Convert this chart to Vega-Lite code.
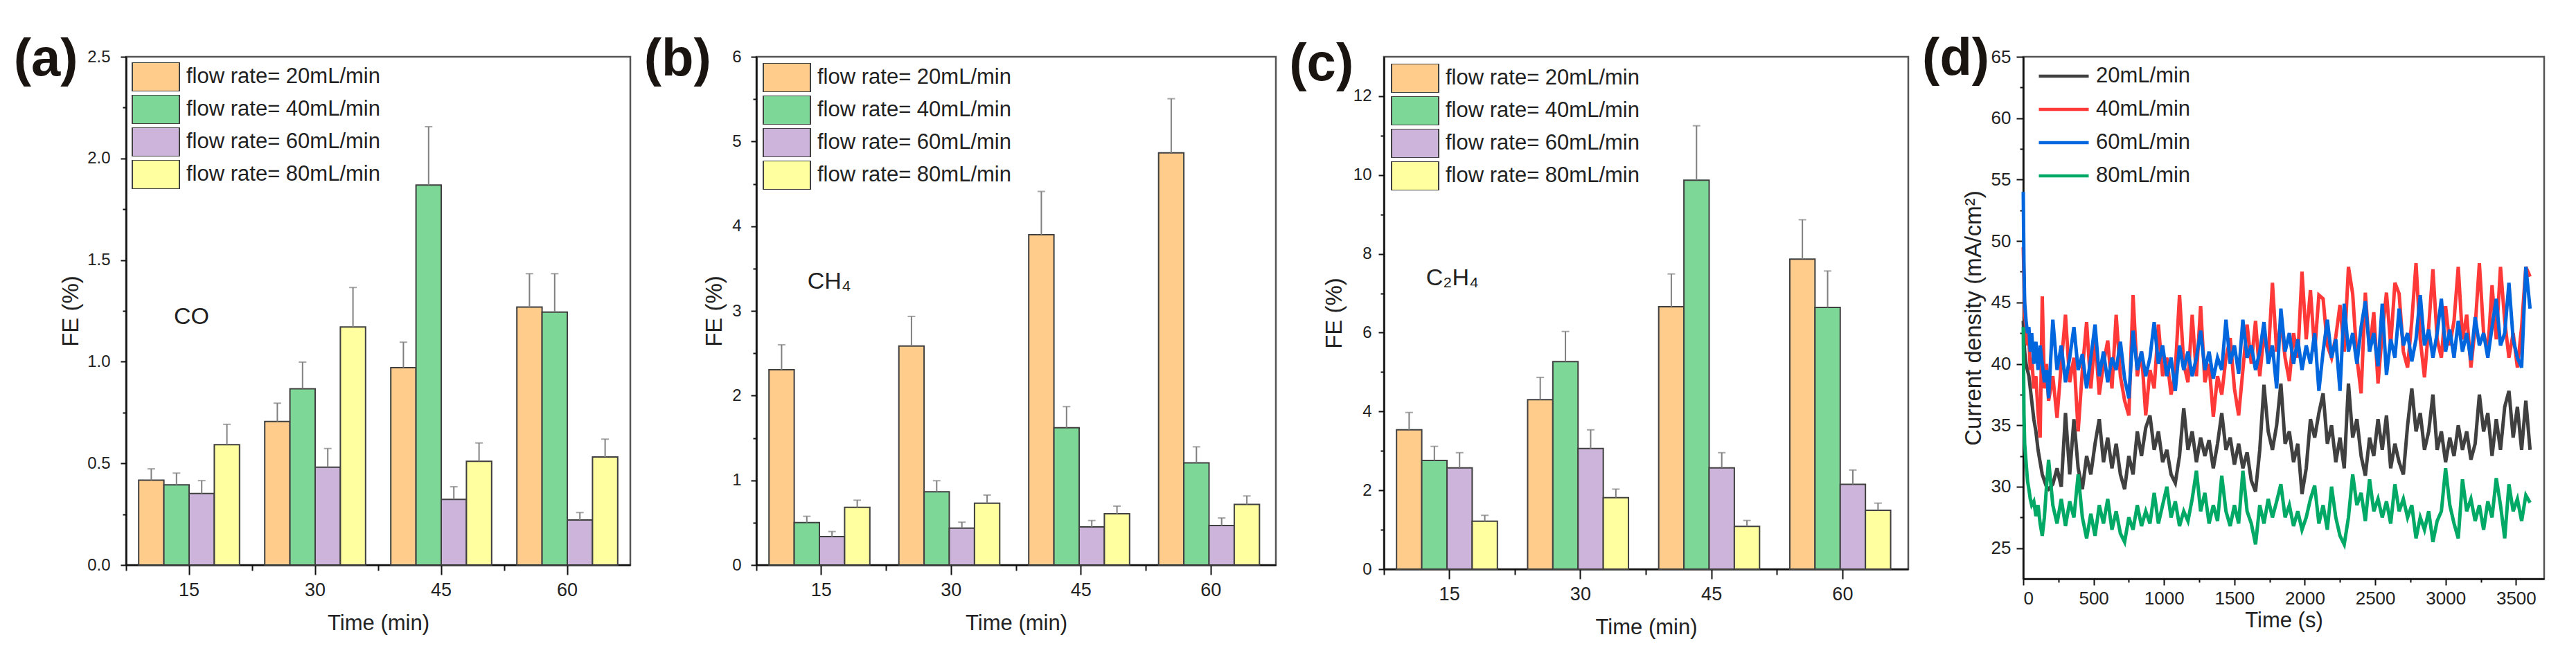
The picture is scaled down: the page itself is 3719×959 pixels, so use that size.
{
  "$schema": "https://vega.github.io/schema/vega-lite/v6.json",
  "description": "FE of CO, CH4, C2H4 at four flow rates, and current density over time",
  "padding": {"left": 18, "top": 45, "right": 0, "bottom": 0},
  "spacing": 16,
  "datasets": {
    "fe": [
      {"panel": "a", "time": "15", "flow": "flow rate= 20mL/min", "fe": 0.417, "up": 0.473},
      {"panel": "a", "time": "15", "flow": "flow rate= 40mL/min", "fe": 0.394, "up": 0.452},
      {"panel": "a", "time": "15", "flow": "flow rate= 60mL/min", "fe": 0.352, "up": 0.415},
      {"panel": "a", "time": "15", "flow": "flow rate= 80mL/min", "fe": 0.592, "up": 0.692},
      {"panel": "a", "time": "30", "flow": "flow rate= 20mL/min", "fe": 0.706, "up": 0.796},
      {"panel": "a", "time": "30", "flow": "flow rate= 40mL/min", "fe": 0.867, "up": 0.998},
      {"panel": "a", "time": "30", "flow": "flow rate= 60mL/min", "fe": 0.481, "up": 0.573},
      {"panel": "a", "time": "30", "flow": "flow rate= 80mL/min", "fe": 1.171, "up": 1.365},
      {"panel": "a", "time": "45", "flow": "flow rate= 20mL/min", "fe": 0.971, "up": 1.096},
      {"panel": "a", "time": "45", "flow": "flow rate= 40mL/min", "fe": 1.869, "up": 2.156},
      {"panel": "a", "time": "45", "flow": "flow rate= 60mL/min", "fe": 0.323, "up": 0.385},
      {"panel": "a", "time": "45", "flow": "flow rate= 80mL/min", "fe": 0.510, "up": 0.600},
      {"panel": "a", "time": "60", "flow": "flow rate= 20mL/min", "fe": 1.269, "up": 1.433},
      {"panel": "a", "time": "60", "flow": "flow rate= 40mL/min", "fe": 1.244, "up": 1.433},
      {"panel": "a", "time": "60", "flow": "flow rate= 60mL/min", "fe": 0.221, "up": 0.258},
      {"panel": "a", "time": "60", "flow": "flow rate= 80mL/min", "fe": 0.531, "up": 0.619},
      {"panel": "b", "time": "15", "flow": "flow rate= 20mL/min", "fe": 2.305, "up": 2.60},
      {"panel": "b", "time": "15", "flow": "flow rate= 40mL/min", "fe": 0.50, "up": 0.575},
      {"panel": "b", "time": "15", "flow": "flow rate= 60mL/min", "fe": 0.335, "up": 0.395},
      {"panel": "b", "time": "15", "flow": "flow rate= 80mL/min", "fe": 0.68, "up": 0.765},
      {"panel": "b", "time": "30", "flow": "flow rate= 20mL/min", "fe": 2.585, "up": 2.935},
      {"panel": "b", "time": "30", "flow": "flow rate= 40mL/min", "fe": 0.865, "up": 0.995},
      {"panel": "b", "time": "30", "flow": "flow rate= 60mL/min", "fe": 0.435, "up": 0.505},
      {"panel": "b", "time": "30", "flow": "flow rate= 80mL/min", "fe": 0.73, "up": 0.825},
      {"panel": "b", "time": "45", "flow": "flow rate= 20mL/min", "fe": 3.90, "up": 4.41},
      {"panel": "b", "time": "45", "flow": "flow rate= 40mL/min", "fe": 1.62, "up": 1.87},
      {"panel": "b", "time": "45", "flow": "flow rate= 60mL/min", "fe": 0.45, "up": 0.525},
      {"panel": "b", "time": "45", "flow": "flow rate= 80mL/min", "fe": 0.605, "up": 0.695},
      {"panel": "b", "time": "60", "flow": "flow rate= 20mL/min", "fe": 4.865, "up": 5.505},
      {"panel": "b", "time": "60", "flow": "flow rate= 40mL/min", "fe": 1.205, "up": 1.395},
      {"panel": "b", "time": "60", "flow": "flow rate= 60mL/min", "fe": 0.465, "up": 0.555},
      {"panel": "b", "time": "60", "flow": "flow rate= 80mL/min", "fe": 0.715, "up": 0.815},
      {"panel": "c", "time": "15", "flow": "flow rate= 20mL/min", "fe": 3.535, "up": 3.975},
      {"panel": "c", "time": "15", "flow": "flow rate= 40mL/min", "fe": 2.76, "up": 3.115},
      {"panel": "c", "time": "15", "flow": "flow rate= 60mL/min", "fe": 2.57, "up": 2.955},
      {"panel": "c", "time": "15", "flow": "flow rate= 80mL/min", "fe": 1.215, "up": 1.365},
      {"panel": "c", "time": "30", "flow": "flow rate= 20mL/min", "fe": 4.30, "up": 4.865},
      {"panel": "c", "time": "30", "flow": "flow rate= 40mL/min", "fe": 5.265, "up": 6.03},
      {"panel": "c", "time": "30", "flow": "flow rate= 60mL/min", "fe": 3.06, "up": 3.535},
      {"panel": "c", "time": "30", "flow": "flow rate= 80mL/min", "fe": 1.815, "up": 2.03},
      {"panel": "c", "time": "45", "flow": "flow rate= 20mL/min", "fe": 6.66, "up": 7.49},
      {"panel": "c", "time": "45", "flow": "flow rate= 40mL/min", "fe": 9.87, "up": 11.25},
      {"panel": "c", "time": "45", "flow": "flow rate= 60mL/min", "fe": 2.57, "up": 2.955},
      {"panel": "c", "time": "45", "flow": "flow rate= 80mL/min", "fe": 1.085, "up": 1.235},
      {"panel": "c", "time": "60", "flow": "flow rate= 20mL/min", "fe": 7.865, "up": 8.865},
      {"panel": "c", "time": "60", "flow": "flow rate= 40mL/min", "fe": 6.64, "up": 7.565},
      {"panel": "c", "time": "60", "flow": "flow rate= 60mL/min", "fe": 2.15, "up": 2.515},
      {"panel": "c", "time": "60", "flow": "flow rate= 80mL/min", "fe": 1.495, "up": 1.675}
    ],
    "cur": [
      {"t": 0, "20mL/min": 43.5, "40mL/min": 49.5, "60mL/min": 54.0, "80mL/min": 43.0},
      {"t": 5, "20mL/min": 42.0, "40mL/min": 47.0, "60mL/min": 48.0, "80mL/min": 36.0},
      {"t": 10, "20mL/min": 41.0, "40mL/min": 44.0, "60mL/min": 45.0, "80mL/min": 33.5},
      {"t": 20, "20mL/min": 40.0, "40mL/min": 43.0, "60mL/min": 43.5, "80mL/min": 32.0},
      {"t": 30, "20mL/min": 39.5, "40mL/min": 41.5, "60mL/min": 42.5, "80mL/min": 30.5},
      {"t": 40, "20mL/min": 39.0, "40mL/min": 42.0, "60mL/min": 43.0, "80mL/min": 29.8},
      {"t": 50, "20mL/min": 38.0, "40mL/min": 39.5, "60mL/min": 41.0, "80mL/min": 29.0},
      {"t": 60, "20mL/min": 37.0, "40mL/min": 40.5, "60mL/min": 42.5, "80mL/min": 28.5},
      {"t": 75, "20mL/min": 35.5, "40mL/min": 38.0, "60mL/min": 40.0, "80mL/min": 28.8},
      {"t": 90, "20mL/min": 34.5, "40mL/min": 39.0, "60mL/min": 41.8, "80mL/min": 27.6},
      {"t": 105, "20mL/min": 33.0, "40mL/min": 36.0, "60mL/min": 39.5, "80mL/min": 28.5},
      {"t": 120, "20mL/min": 32.0, "40mL/min": 34.0, "60mL/min": 41.5, "80mL/min": 27.0},
      {"t": 135, "20mL/min": 31.0, "40mL/min": 45.5, "60mL/min": 40.0, "80mL/min": 26.0},
      {"t": 150, "20mL/min": 30.5, "40mL/min": 38.0, "60mL/min": 38.5, "80mL/min": 27.5},
      {"t": 165, "20mL/min": 30.0, "40mL/min": 40.0, "60mL/min": 39.5, "80mL/min": 30.0},
      {"t": 180, "20mL/min": 29.8, "40mL/min": 37.0, "60mL/min": 37.2, "80mL/min": 32.2},
      {"t": 210, "20mL/min": 30.2, "40mL/min": 39.0, "60mL/min": 43.6, "80mL/min": 28.5},
      {"t": 240, "20mL/min": 31.5, "40mL/min": 35.6, "60mL/min": 39.5, "80mL/min": 27.0},
      {"t": 270, "20mL/min": 30.0, "40mL/min": 40.0, "60mL/min": 41.5, "80mL/min": 29.0},
      {"t": 300, "20mL/min": 36.0, "40mL/min": 44.0, "60mL/min": 38.5, "80mL/min": 26.8},
      {"t": 330, "20mL/min": 31.0, "40mL/min": 38.5, "60mL/min": 40.5, "80mL/min": 28.8},
      {"t": 360, "20mL/min": 35.5, "40mL/min": 40.5, "60mL/min": 43.0, "80mL/min": 27.5},
      {"t": 390, "20mL/min": 31.5, "40mL/min": 34.5, "60mL/min": 39.5, "80mL/min": 31.0},
      {"t": 420, "20mL/min": 29.8, "40mL/min": 39.5, "60mL/min": 40.8, "80mL/min": 27.5},
      {"t": 450, "20mL/min": 32.5, "40mL/min": 43.4, "60mL/min": 38.0, "80mL/min": 25.8},
      {"t": 480, "20mL/min": 31.0, "40mL/min": 38.0, "60mL/min": 40.5, "80mL/min": 27.8},
      {"t": 510, "20mL/min": 33.5, "40mL/min": 42.1, "60mL/min": 43.2, "80mL/min": 26.0},
      {"t": 540, "20mL/min": 35.5, "40mL/min": 37.5, "60mL/min": 39.0, "80mL/min": 28.5},
      {"t": 570, "20mL/min": 32.0, "40mL/min": 40.0, "60mL/min": 41.0, "80mL/min": 27.0},
      {"t": 600, "20mL/min": 34.0, "40mL/min": 41.9, "60mL/min": 38.5, "80mL/min": 29.0},
      {"t": 630, "20mL/min": 31.5, "40mL/min": 38.0, "60mL/min": 40.5, "80mL/min": 26.5},
      {"t": 660, "20mL/min": 33.5, "40mL/min": 44.0, "60mL/min": 39.5, "80mL/min": 28.0},
      {"t": 690, "20mL/min": 31.0, "40mL/min": 39.0, "60mL/min": 41.8, "80mL/min": 26.2},
      {"t": 720, "20mL/min": 29.8, "40mL/min": 37.0, "60mL/min": 38.8, "80mL/min": 25.5},
      {"t": 750, "20mL/min": 32.5, "40mL/min": 35.8, "60mL/min": 37.2, "80mL/min": 27.5},
      {"t": 780, "20mL/min": 31.0, "40mL/min": 45.6, "60mL/min": 42.7, "80mL/min": 26.5},
      {"t": 810, "20mL/min": 34.5, "40mL/min": 39.0, "60mL/min": 39.5, "80mL/min": 28.5},
      {"t": 840, "20mL/min": 32.5, "40mL/min": 41.0, "60mL/min": 41.0, "80mL/min": 26.8},
      {"t": 870, "20mL/min": 34.8, "40mL/min": 35.8, "60mL/min": 39.0, "80mL/min": 28.0},
      {"t": 900, "20mL/min": 35.8, "40mL/min": 39.5, "60mL/min": 40.5, "80mL/min": 27.0},
      {"t": 930, "20mL/min": 33.0, "40mL/min": 38.0, "60mL/min": 43.4, "80mL/min": 29.5},
      {"t": 960, "20mL/min": 34.5, "40mL/min": 43.2, "60mL/min": 40.0, "80mL/min": 27.0},
      {"t": 990, "20mL/min": 32.0, "40mL/min": 39.0, "60mL/min": 41.5, "80mL/min": 28.5},
      {"t": 1020, "20mL/min": 33.0, "40mL/min": 40.5, "60mL/min": 39.0, "80mL/min": 30.0},
      {"t": 1050, "20mL/min": 31.0, "40mL/min": 37.5, "60mL/min": 40.5, "80mL/min": 27.5},
      {"t": 1080, "20mL/min": 30.3, "40mL/min": 39.5, "60mL/min": 37.8, "80mL/min": 28.8},
      {"t": 1110, "20mL/min": 32.5, "40mL/min": 45.6, "60mL/min": 41.5, "80mL/min": 26.8},
      {"t": 1140, "20mL/min": 36.4, "40mL/min": 40.0, "60mL/min": 39.5, "80mL/min": 28.0},
      {"t": 1170, "20mL/min": 33.0, "40mL/min": 38.5, "60mL/min": 41.0, "80mL/min": 27.2},
      {"t": 1200, "20mL/min": 34.5, "40mL/min": 44.0, "60mL/min": 39.0, "80mL/min": 29.0},
      {"t": 1230, "20mL/min": 32.0, "40mL/min": 39.0, "60mL/min": 40.5, "80mL/min": 31.3},
      {"t": 1260, "20mL/min": 34.0, "40mL/min": 44.7, "60mL/min": 42.7, "80mL/min": 28.0},
      {"t": 1290, "20mL/min": 32.5, "40mL/min": 38.5, "60mL/min": 39.5, "80mL/min": 29.5},
      {"t": 1320, "20mL/min": 33.8, "40mL/min": 40.0, "60mL/min": 41.0, "80mL/min": 27.0},
      {"t": 1350, "20mL/min": 31.5, "40mL/min": 35.7, "60mL/min": 38.8, "80mL/min": 28.5},
      {"t": 1380, "20mL/min": 33.5, "40mL/min": 39.0, "60mL/min": 40.5, "80mL/min": 27.2},
      {"t": 1410, "20mL/min": 36.0, "40mL/min": 37.5, "60mL/min": 39.5, "80mL/min": 30.9},
      {"t": 1440, "20mL/min": 33.0, "40mL/min": 40.5, "60mL/min": 43.6, "80mL/min": 28.0},
      {"t": 1470, "20mL/min": 34.0, "40mL/min": 42.1, "60mL/min": 40.0, "80mL/min": 26.8},
      {"t": 1500, "20mL/min": 31.8, "40mL/min": 38.0, "60mL/min": 41.5, "80mL/min": 28.5},
      {"t": 1530, "20mL/min": 33.5, "40mL/min": 35.8, "60mL/min": 39.2, "80mL/min": 27.0},
      {"t": 1560, "20mL/min": 31.5, "40mL/min": 39.5, "60mL/min": 43.6, "80mL/min": 31.3},
      {"t": 1590, "20mL/min": 32.8, "40mL/min": 43.2, "60mL/min": 40.5, "80mL/min": 28.0},
      {"t": 1620, "20mL/min": 30.5, "40mL/min": 40.0, "60mL/min": 41.5, "80mL/min": 27.0},
      {"t": 1650, "20mL/min": 29.6, "40mL/min": 43.5, "60mL/min": 39.5, "80mL/min": 25.3},
      {"t": 1680, "20mL/min": 33.0, "40mL/min": 39.0, "60mL/min": 41.0, "80mL/min": 28.5},
      {"t": 1710, "20mL/min": 38.3, "40mL/min": 42.5, "60mL/min": 43.4, "80mL/min": 27.0},
      {"t": 1740, "20mL/min": 34.5, "40mL/min": 40.5, "60mL/min": 40.0, "80mL/min": 29.0},
      {"t": 1770, "20mL/min": 33.0, "40mL/min": 46.6, "60mL/min": 41.5, "80mL/min": 27.5},
      {"t": 1800, "20mL/min": 35.0, "40mL/min": 41.0, "60mL/min": 38.0, "80mL/min": 28.8},
      {"t": 1830, "20mL/min": 38.4, "40mL/min": 43.5, "60mL/min": 44.5, "80mL/min": 30.2},
      {"t": 1860, "20mL/min": 33.5, "40mL/min": 40.5, "60mL/min": 41.0, "80mL/min": 27.5},
      {"t": 1890, "20mL/min": 34.5, "40mL/min": 38.6, "60mL/min": 42.5, "80mL/min": 28.5},
      {"t": 1920, "20mL/min": 32.0, "40mL/min": 42.5, "60mL/min": 40.0, "80mL/min": 26.8},
      {"t": 1950, "20mL/min": 33.5, "40mL/min": 40.5, "60mL/min": 42.0, "80mL/min": 28.0},
      {"t": 1980, "20mL/min": 29.4, "40mL/min": 47.5, "60mL/min": 39.5, "80mL/min": 26.5},
      {"t": 2010, "20mL/min": 31.5, "40mL/min": 42.0, "60mL/min": 41.5, "80mL/min": 27.5},
      {"t": 2040, "20mL/min": 35.5, "40mL/min": 46.0, "60mL/min": 40.0, "80mL/min": 29.0},
      {"t": 2070, "20mL/min": 34.0, "40mL/min": 41.0, "60mL/min": 42.5, "80mL/min": 30.1},
      {"t": 2100, "20mL/min": 36.0, "40mL/min": 45.6, "60mL/min": 37.8, "80mL/min": 27.0},
      {"t": 2130, "20mL/min": 37.6, "40mL/min": 45.3, "60mL/min": 41.0, "80mL/min": 28.5},
      {"t": 2160, "20mL/min": 33.5, "40mL/min": 41.5, "60mL/min": 43.6, "80mL/min": 26.5},
      {"t": 2190, "20mL/min": 35.0, "40mL/min": 40.5, "60mL/min": 40.5, "80mL/min": 30.0},
      {"t": 2220, "20mL/min": 32.0, "40mL/min": 42.2, "60mL/min": 42.0, "80mL/min": 27.5},
      {"t": 2250, "20mL/min": 34.0, "40mL/min": 44.8, "60mL/min": 37.8, "80mL/min": 26.0},
      {"t": 2280, "20mL/min": 31.5, "40mL/min": 41.0, "60mL/min": 44.9, "80mL/min": 25.3},
      {"t": 2310, "20mL/min": 38.4, "40mL/min": 47.9, "60mL/min": 41.0, "80mL/min": 27.5},
      {"t": 2340, "20mL/min": 34.0, "40mL/min": 45.7, "60mL/min": 42.5, "80mL/min": 31.0},
      {"t": 2370, "20mL/min": 35.5, "40mL/min": 40.5, "60mL/min": 40.0, "80mL/min": 28.5},
      {"t": 2400, "20mL/min": 32.5, "40mL/min": 37.6, "60mL/min": 43.0, "80mL/min": 29.5},
      {"t": 2430, "20mL/min": 30.9, "40mL/min": 45.8, "60mL/min": 45.1, "80mL/min": 27.2},
      {"t": 2460, "20mL/min": 34.0, "40mL/min": 41.0, "60mL/min": 41.0, "80mL/min": 30.6},
      {"t": 2490, "20mL/min": 32.5, "40mL/min": 44.2, "60mL/min": 42.5, "80mL/min": 28.0},
      {"t": 2520, "20mL/min": 35.5, "40mL/min": 38.4, "60mL/min": 39.8, "80mL/min": 29.0},
      {"t": 2550, "20mL/min": 33.0, "40mL/min": 42.5, "60mL/min": 44.9, "80mL/min": 27.5},
      {"t": 2580, "20mL/min": 35.8, "40mL/min": 45.8, "60mL/min": 39.1, "80mL/min": 28.8},
      {"t": 2610, "20mL/min": 31.5, "40mL/min": 41.5, "60mL/min": 42.0, "80mL/min": 27.0},
      {"t": 2640, "20mL/min": 33.5, "40mL/min": 46.6, "60mL/min": 40.5, "80mL/min": 30.2},
      {"t": 2670, "20mL/min": 32.0, "40mL/min": 45.7, "60mL/min": 44.5, "80mL/min": 28.0},
      {"t": 2700, "20mL/min": 31.0, "40mL/min": 41.0, "60mL/min": 41.5, "80mL/min": 29.0},
      {"t": 2730, "20mL/min": 35.0, "40mL/min": 39.7, "60mL/min": 42.5, "80mL/min": 27.5},
      {"t": 2760, "20mL/min": 38.0, "40mL/min": 43.5, "60mL/min": 40.2, "80mL/min": 28.5},
      {"t": 2790, "20mL/min": 34.5, "40mL/min": 48.2, "60mL/min": 42.0, "80mL/min": 25.8},
      {"t": 2820, "20mL/min": 36.0, "40mL/min": 42.0, "60mL/min": 45.6, "80mL/min": 27.5},
      {"t": 2850, "20mL/min": 33.0, "40mL/min": 38.9, "60mL/min": 41.5, "80mL/min": 26.5},
      {"t": 2880, "20mL/min": 34.5, "40mL/min": 43.0, "60mL/min": 42.8, "80mL/min": 28.0},
      {"t": 2910, "20mL/min": 37.5, "40mL/min": 47.7, "60mL/min": 40.5, "80mL/min": 25.5},
      {"t": 2940, "20mL/min": 33.0, "40mL/min": 42.0, "60mL/min": 42.5, "80mL/min": 27.2},
      {"t": 2970, "20mL/min": 34.5, "40mL/min": 40.5, "60mL/min": 45.3, "80mL/min": 28.0},
      {"t": 3000, "20mL/min": 32.0, "40mL/min": 44.7, "60mL/min": 41.0, "80mL/min": 31.5},
      {"t": 3030, "20mL/min": 34.0, "40mL/min": 41.5, "60mL/min": 42.8, "80mL/min": 28.5},
      {"t": 3060, "20mL/min": 32.5, "40mL/min": 43.5, "60mL/min": 40.5, "80mL/min": 27.0},
      {"t": 3090, "20mL/min": 35.0, "40mL/min": 47.9, "60mL/min": 43.5, "80mL/min": 25.8},
      {"t": 3120, "20mL/min": 33.0, "40mL/min": 42.0, "60mL/min": 41.0, "80mL/min": 30.6},
      {"t": 3150, "20mL/min": 34.5, "40mL/min": 44.0, "60mL/min": 42.5, "80mL/min": 28.0},
      {"t": 3180, "20mL/min": 32.2, "40mL/min": 39.7, "60mL/min": 40.3, "80mL/min": 29.0},
      {"t": 3210, "20mL/min": 33.5, "40mL/min": 43.0, "60mL/min": 43.8, "80mL/min": 27.2},
      {"t": 3240, "20mL/min": 37.5, "40mL/min": 48.2, "60mL/min": 41.5, "80mL/min": 28.5},
      {"t": 3270, "20mL/min": 34.5, "40mL/min": 42.5, "60mL/min": 42.5, "80mL/min": 26.5},
      {"t": 3300, "20mL/min": 36.0, "40mL/min": 41.0, "60mL/min": 40.5, "80mL/min": 28.8},
      {"t": 3330, "20mL/min": 32.5, "40mL/min": 46.4, "60mL/min": 43.0, "80mL/min": 27.5},
      {"t": 3360, "20mL/min": 35.5, "40mL/min": 42.0, "60mL/min": 45.3, "80mL/min": 30.7},
      {"t": 3390, "20mL/min": 33.0, "40mL/min": 47.9, "60mL/min": 41.5, "80mL/min": 28.5},
      {"t": 3420, "20mL/min": 36.5, "40mL/min": 43.5, "60mL/min": 42.5, "80mL/min": 25.8},
      {"t": 3450, "20mL/min": 37.8, "40mL/min": 40.5, "60mL/min": 46.6, "80mL/min": 30.2},
      {"t": 3480, "20mL/min": 34.0, "40mL/min": 42.5, "60mL/min": 42.0, "80mL/min": 28.0},
      {"t": 3510, "20mL/min": 36.5, "40mL/min": 39.7, "60mL/min": 40.5, "80mL/min": 29.0},
      {"t": 3540, "20mL/min": 33.0, "40mL/min": 43.0, "60mL/min": 39.7, "80mL/min": 27.2},
      {"t": 3570, "20mL/min": 37.0, "40mL/min": 47.9, "60mL/min": 47.9, "80mL/min": 29.3},
      {"t": 3600, "20mL/min": 33.0, "40mL/min": 47.1, "60mL/min": 44.5, "80mL/min": 28.7}
    ]
  },
  "hconcat": [
    {
      "width": 728,
      "height": 734,
      "title": {"text": "(a)", "dx": -67, "dy": 59},
      "data": {"name": "fe"},
      "transform": [{"filter": "datum.panel === 'a'"}],
      "layer": [
        {
          "mark": {"type": "bar", "stroke": "#404040", "strokeWidth": 2},
          "encoding": {
            "x": {"field": "time", "type": "ordinal", "scale": {"paddingInner": 0, "paddingOuter": 0},
                  "axis": {"title": "Time (min)", "labelAngle": 0, "tickSize": 14, "labelPadding": 9, "labelFontSize": 27, "titleFontSize": 31, "titlePadding": 20}},
            "xOffset": {"field": "flow", "scale": {"paddingInner": 0, "paddingOuter": 0.5}},
            "y": {"field": "fe", "type": "quantitative", "scale": {"domain": [0, 2.5], "nice": false},
                  "axis": {"title": "FE (%)", "values": [0, 0.5, 1, 1.5, 2, 2.5], "format": ".1f", "tickSize": 8, "labelPadding": 15, "labelFontSize": 24, "titleFontSize": 33, "titlePadding": 6}},
            "color": {"field": "flow", "type": "nominal",
                      "scale": {"range": ["#FFCC8C", "#7DD898", "#CCB4DA", "#FFFFA0"]},
                      "legend": {"title": null, "orient": "top-left", "offset": 8, "symbolType": "M-1.62,-1H1.62V1H-1.62Z", "symbolSize": 1764, "symbolOffset": 13, "labelOffset": 22, "labelFontSize": 31, "labelLimit": 500, "clipHeight": 42, "rowPadding": 5, "symbolStrokeColor": "#404040", "symbolStrokeWidth": 2}}
          }
        },
        {
          "mark": {"type": "rule", "color": "#808080", "strokeWidth": 2},
          "encoding": {
            "x": {"field": "time", "type": "ordinal",
                  "axis": {"orient": "bottom", "bandPosition": 0, "labels": false, "domain": false, "title": null, "tickSize": 8}},
            "xOffset": {"field": "flow"},
            "y": {"field": "fe", "type": "quantitative",
                  "axis": {"orient": "left", "values": [0.25, 0.75, 1.25, 1.75, 2.25], "labels": false, "domain": false, "title": null, "tickSize": 5}},
            "y2": {"field": "up"}
          }
        },
        {
          "mark": {"type": "tick", "color": "#808080", "thickness": 2, "size": 11},
          "encoding": {
            "x": {"field": "time", "type": "ordinal", "axis": null},
            "xOffset": {"field": "flow"},
            "y": {"field": "up", "type": "quantitative", "axis": null}
          }
        },
        {
          "data": {"values": [{"panel": "a"}]},
          "mark": {"type": "text", "text": "CO", "align": "left", "baseline": "middle", "fontSize": 34, "color": "#222222", "dx": -22},
          "encoding": {
            "x": {"datum": "15", "type": "ordinal", "axis": null},
            "y": {"datum": 1.22, "type": "quantitative", "axis": null}
          }
        }
      ],
      "resolve": {"axis": {"x": "independent", "y": "independent"}}
    },
    {
      "width": 750,
      "height": 734,
      "title": {"text": "(b)", "dx": -86, "dy": 59},
      "data": {"name": "fe"},
      "transform": [{"filter": "datum.panel === 'b'"}],
      "layer": [
        {
          "mark": {"type": "bar", "stroke": "#404040", "strokeWidth": 2},
          "encoding": {
            "x": {"field": "time", "type": "ordinal", "scale": {"paddingInner": 0, "paddingOuter": 0},
                  "axis": {"title": "Time (min)", "labelAngle": 0, "tickSize": 14, "labelPadding": 9, "labelFontSize": 27, "titleFontSize": 31, "titlePadding": 20}},
            "xOffset": {"field": "flow", "scale": {"paddingInner": 0, "paddingOuter": 0.5}},
            "y": {"field": "fe", "type": "quantitative", "scale": {"domain": [0, 6], "nice": false},
                  "axis": {"title": "FE (%)", "values": [0, 1, 2, 3, 4, 5, 6], "format": "d", "tickSize": 8, "labelPadding": 14, "labelFontSize": 24, "titleFontSize": 33, "titlePadding": 8}},
            "color": {"field": "flow", "type": "nominal",
                      "scale": {"range": ["#FFCC8C", "#7DD898", "#CCB4DA", "#FFFFA0"]},
                      "legend": {"title": null, "orient": "top-left", "offset": 9, "symbolType": "M-1.62,-1H1.62V1H-1.62Z", "symbolSize": 1764, "symbolOffset": 13, "labelOffset": 22, "labelFontSize": 31, "labelLimit": 500, "clipHeight": 42, "rowPadding": 5, "symbolStrokeColor": "#404040", "symbolStrokeWidth": 2}}
          }
        },
        {
          "mark": {"type": "rule", "color": "#808080", "strokeWidth": 2},
          "encoding": {
            "x": {"field": "time", "type": "ordinal",
                  "axis": {"orient": "bottom", "bandPosition": 0, "labels": false, "domain": false, "title": null, "tickSize": 8}},
            "xOffset": {"field": "flow"},
            "y": {"field": "fe", "type": "quantitative",
                  "axis": {"orient": "left", "values": [0.5, 1.5, 2.5, 3.5, 4.5, 5.5], "labels": false, "domain": false, "title": null, "tickSize": 5}},
            "y2": {"field": "up"}
          }
        },
        {
          "mark": {"type": "tick", "color": "#808080", "thickness": 2, "size": 11},
          "encoding": {
            "x": {"field": "time", "type": "ordinal", "axis": null},
            "xOffset": {"field": "flow"},
            "y": {"field": "up", "type": "quantitative", "axis": null}
          }
        },
        {
          "data": {"values": [{"panel": "b"}]},
          "mark": {"type": "text", "text": "CH₄", "align": "left", "baseline": "middle", "fontSize": 34, "color": "#222222", "dx": -20},
          "encoding": {
            "x": {"datum": "15", "type": "ordinal", "axis": null},
            "y": {"datum": 3.34, "type": "quantitative", "axis": null}
          }
        }
      ],
      "resolve": {"axis": {"x": "independent", "y": "independent"}}
    },
    {
      "width": 757,
      "height": 740,
      "title": {"text": "(c)", "dx": -49, "dy": 54},
      "data": {"name": "fe"},
      "transform": [{"filter": "datum.panel === 'c'"}],
      "layer": [
        {
          "mark": {"type": "bar", "stroke": "#404040", "strokeWidth": 2},
          "encoding": {
            "x": {"field": "time", "type": "ordinal", "scale": {"paddingInner": 0, "paddingOuter": 0},
                  "axis": {"title": "Time (min)", "labelAngle": 0, "tickSize": 14, "labelPadding": 9, "labelFontSize": 27, "titleFontSize": 31, "titlePadding": 20}},
            "xOffset": {"field": "flow", "scale": {"paddingInner": 0, "paddingOuter": 0.5}},
            "y": {"field": "fe", "type": "quantitative", "scale": {"domain": [0, 13], "nice": false},
                  "axis": {"title": "FE (%)", "values": [0, 2, 4, 6, 8, 10, 12], "format": "d", "tickSize": 8, "labelPadding": 10, "labelFontSize": 24, "titleFontSize": 33, "titlePadding": 10}},
            "color": {"field": "flow", "type": "nominal",
                      "scale": {"range": ["#FFCC8C", "#7DD898", "#CCB4DA", "#FFFFA0"]},
                      "legend": {"title": null, "orient": "top-left", "offset": 10, "symbolType": "M-1.62,-1H1.62V1H-1.62Z", "symbolSize": 1764, "symbolOffset": 13, "labelOffset": 22, "labelFontSize": 31, "labelLimit": 500, "clipHeight": 42, "rowPadding": 5, "symbolStrokeColor": "#404040", "symbolStrokeWidth": 2}}
          }
        },
        {
          "mark": {"type": "rule", "color": "#808080", "strokeWidth": 2},
          "encoding": {
            "x": {"field": "time", "type": "ordinal",
                  "axis": {"orient": "bottom", "bandPosition": 0, "labels": false, "domain": false, "title": null, "tickSize": 8}},
            "xOffset": {"field": "flow"},
            "y": {"field": "fe", "type": "quantitative",
                  "axis": {"orient": "left", "values": [1, 3, 5, 7, 9, 11], "labels": false, "domain": false, "title": null, "tickSize": 5}},
            "y2": {"field": "up"}
          }
        },
        {
          "mark": {"type": "tick", "color": "#808080", "thickness": 2, "size": 11},
          "encoding": {
            "x": {"field": "time", "type": "ordinal", "axis": null},
            "xOffset": {"field": "flow"},
            "y": {"field": "up", "type": "quantitative", "axis": null}
          }
        },
        {
          "data": {"values": [{"panel": "c"}]},
          "mark": {"type": "text", "text": "C₂H₄", "align": "left", "baseline": "middle", "fontSize": 34, "color": "#222222", "dx": -34},
          "encoding": {
            "x": {"datum": "15", "type": "ordinal", "axis": null},
            "y": {"datum": 7.37, "type": "quantitative", "axis": null}
          }
        }
      ],
      "resolve": {"axis": {"x": "independent", "y": "independent"}}
    },
    {
      "width": 752,
      "height": 754,
      "title": {"text": "(d)", "dx": -58, "dy": 59},
      "layer": [
        {
          "data": {"name": "cur"},
          "transform": [{"fold": ["20mL/min", "40mL/min", "60mL/min", "80mL/min"], "as": ["flow", "j"]}],
          "mark": {"type": "line", "strokeWidth": 5},
          "encoding": {
            "x": {"field": "t", "type": "quantitative", "scale": {"domain": [0, 3700], "nice": false},
                  "axis": {"title": "Time (s)", "values": [0, 500, 1000, 1500, 2000, 2500, 3000, 3500], "format": "d", "tickSize": 9, "labelPadding": 6, "labelFontSize": 26, "titleFontSize": 31, "titlePadding": 4}},
            "y": {"field": "j", "type": "quantitative", "scale": {"domain": [22.5, 65], "nice": false, "zero": false},
                  "axis": {"title": "Current density (mA/cm²)", "values": [25, 30, 35, 40, 45, 50, 55, 60, 65], "format": "d", "tickSize": 10, "labelPadding": 8, "labelFontSize": 26, "titleFontSize": 33, "titlePadding": 8}},
            "color": {"field": "flow", "type": "nominal",
                      "scale": {"domain": ["20mL/min", "40mL/min", "60mL/min", "80mL/min"], "range": ["#404040", "#FF3838", "#0066DD", "#00AA66"]},
                      "legend": {"title": null, "orient": "top-left", "offset": 12, "symbolType": "M-3,0H3", "symbolSize": 576, "symbolStrokeWidth": 4.5, "symbolOffset": 31, "labelOffset": 31, "labelFontSize": 31, "labelLimit": 400, "clipHeight": 32, "rowPadding": 16}}
          }
        },
        {
          "data": {"values": [{}]},
          "mark": {"type": "point", "opacity": 0},
          "encoding": {
            "x": {"datum": 0, "type": "quantitative",
                  "axis": {"orient": "bottom", "values": [250, 750, 1250, 1750, 2250, 2750, 3250], "labels": false, "domain": false, "title": null, "tickSize": 5}},
            "y": {"datum": 40, "type": "quantitative",
                  "axis": {"orient": "left", "values": [27.5, 32.5, 37.5, 42.5, 47.5, 52.5, 57.5, 62.5], "labels": false, "domain": false, "title": null, "tickSize": 5}}
          }
        }
      ],
      "resolve": {"axis": {"x": "independent", "y": "independent"}}
    }
  ],
  "resolve": {"scale": {"color": "independent"}, "legend": {"color": "independent"}},
  "config": {
    "font": "Liberation Sans",
    "view": {"stroke": "#555555", "strokeWidth": 2.5},
    "axis": {"grid": false, "domainColor": "#111111", "domainWidth": 2.5, "tickColor": "#111111", "tickWidth": 2, "labelColor": "#222222", "titleColor": "#222222", "titleFontWeight": "normal", "labelFont": "Liberation Sans", "titleFont": "Liberation Sans"},
    "legend": {"labelColor": "#222222", "labelFont": "Liberation Sans"},
    "title": {"anchor": "start", "frame": "bounds", "fontSize": 76, "fontWeight": "bold", "color": "#1a1410", "offset": 0, "baseline": "bottom"}
  }
}
